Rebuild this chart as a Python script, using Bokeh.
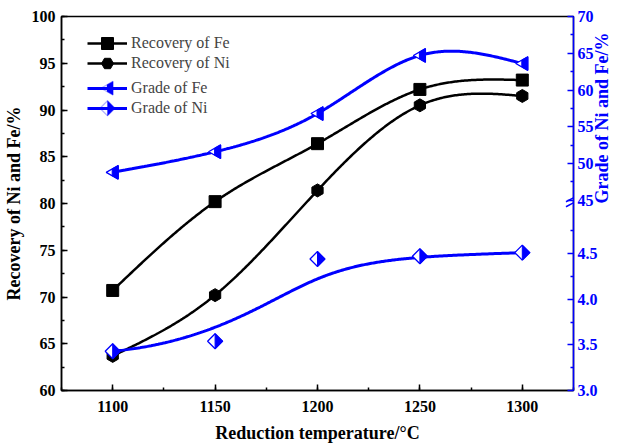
import numpy as np
from bokeh.plotting import figure
from bokeh.models import (Range1d, LinearAxis, FixedTicker, SingleIntervalTicker,
                          CustomJSTickFormatter, Legend, LegendItem, Arrow, PolyAnnotation)
from bokeh.embed import file_html
from bokeh.resources import INLINE

# ---------------- data ----------------
temperature = [1100, 1150, 1200, 1250, 1300]
recovery_fe = [70.7, 80.2, 86.4, 92.2, 93.2]
recovery_ni = [63.7, 70.2, 81.4, 90.5, 91.5]
grade_fe = [48.8, 51.6, 56.8, 64.7, 63.6]
grade_ni = [3.43, 3.54, 4.44, 4.47, 4.51]

ni_ticks = [3.0, 3.5, 4.0, 4.5]
ni_minor = [3.25, 3.75, 4.25, 4.75]
fe_ticks = [45, 50, 55, 60, 65, 70]
fe_minor = [47.5, 52.5, 57.5, 62.5, 67.5]

# ---------------- layout constants ----------------
FW, FH = 512, 374
X0, X1 = 1075, 1325
Y0, Y1 = 60, 100
FE_TOP = 70.0
FE_BREAK = 45.0
FE_PX = 7.35            # px per unit on upper (Fe grade) segment
NI_BOT = 3.0
NI_PX = 91.3            # px per unit on lower (Ni grade) segment
fe_lo = FE_TOP - FH / FE_PX
ni_hi = NI_BOT + FH / NI_PX
brk_px_from_bottom = FH - (FE_TOP - FE_BREAK) * FE_PX
ni_break = NI_BOT + brk_px_from_bottom / NI_PX
XPX = FW / (X1 - X0)

BLUE = "#0000FF"
SERIF = "Liberation Serif"

# marker shapes (px offsets)
TRI_OUT = [(-6.5, 0), (5.5, 6.8), (5.5, -6.8)]
TRI_IN = [(-0.5, 3.4), (5.5, 6.8), (5.5, -6.8), (-0.5, -3.4)]
DIA_OUT = [(0, 7.5), (7.5, 0), (0, -7.5), (-7.5, 0)]
DIA_IN = [(0, 7.5), (7.5, 0), (0, -7.5)]


def fe_to_ni(v):
    return NI_BOT + (v - fe_lo) / (FE_TOP - fe_lo) * (ni_hi - NI_BOT)


def natural_spline(xs, ys, n=300):
    x = np.asarray(xs, float); y = np.asarray(ys, float)
    k = len(x); h = np.diff(x)
    A = np.zeros((k, k)); b = np.zeros(k)
    A[0, 0] = A[-1, -1] = 1
    for i in range(1, k - 1):
        A[i, i - 1] = h[i - 1]; A[i, i] = 2 * (h[i - 1] + h[i]); A[i, i + 1] = h[i]
        b[i] = 6 * ((y[i + 1] - y[i]) / h[i] - (y[i] - y[i - 1]) / h[i - 1])
    M = np.linalg.solve(A, b)
    xx = np.linspace(x[0], x[-1], n)
    idx = np.clip(np.searchsorted(x, xx) - 1, 0, k - 2)
    xi, xi1, hi = x[idx], x[idx + 1], h[idx]
    yy = (M[idx] * (xi1 - xx) ** 3 + M[idx + 1] * (xx - xi) ** 3) / (6 * hi) \
        + (y[idx] / hi - M[idx] * hi / 6) * (xi1 - xx) \
        + (y[idx + 1] / hi - M[idx + 1] * hi / 6) * (xx - xi)
    return xx, yy


def bspline(xs, ys, n=300, k=3):
    P = np.column_stack([xs, ys]).astype(float)
    m_ctrl = len(P)
    knots = np.concatenate([np.zeros(k), np.linspace(0, 1, m_ctrl - k + 1), np.ones(k)])
    t = np.linspace(0, 1, n)
    m = len(knots) - 1
    N = np.zeros((n, m))
    for i in range(m):
        N[:, i] = ((knots[i] <= t) & (t < knots[i + 1])).astype(float)
    last = np.where(knots < knots[-1])[0][-1]
    N[t >= knots[-1], :] = 0
    N[t >= knots[-1], last] = 1
    for d in range(1, k + 1):
        Nn = np.zeros((n, m - d))
        for i in range(m - d):
            d1 = knots[i + d] - knots[i]; d2 = knots[i + d + 1] - knots[i + 1]
            a = (t - knots[i]) / d1 * N[:, i] if d1 > 0 else 0
            bb = (knots[i + d + 1] - t) / d2 * N[:, i + 1] if d2 > 0 else 0
            Nn[:, i] = a + bb
        N = Nn
    C = N @ P
    return C[:, 0], C[:, 1]


p = figure(frame_width=FW, frame_height=FH, x_range=Range1d(X0, X1), y_range=Range1d(Y0, Y1),
           output_backend="svg", toolbar_location=None,
           min_border_left=54, min_border_top=16, min_border_right=40, min_border_bottom=40)
p.extra_y_ranges = {"fe": Range1d(fe_lo, FE_TOP), "ni": Range1d(NI_BOT, ni_hi)}
p.xgrid.visible = False
p.ygrid.visible = False
p.outline_line_color = "black"
p.outline_line_width = 1.5
p.background_fill_color = "white"
p.border_fill_color = "white"


def style_axis(ax, color):
    ax.axis_line_color = color
    ax.axis_line_width = 1.5
    ax.major_tick_line_color = color
    ax.minor_tick_line_color = color
    ax.major_tick_line_width = 1.5
    ax.minor_tick_line_width = 1.5
    ax.major_tick_in = 6
    ax.major_tick_out = 0
    ax.minor_tick_in = 3
    ax.minor_tick_out = 0
    ax.major_label_text_font = SERIF
    ax.major_label_text_font_style = "bold"
    ax.major_label_text_font_size = "16px"
    ax.major_label_text_color = color
    ax.axis_label_text_font = SERIF
    ax.axis_label_text_font_style = "bold"
    ax.axis_label_text_font_size = "18px"
    ax.axis_label_text_color = color


p.xaxis.ticker = SingleIntervalTicker(interval=50, num_minor_ticks=2)
p.xaxis.axis_label = "Reduction temperature/°C"
p.xaxis.major_label_standoff = 10
p.xaxis.axis_label_standoff = 8
style_axis(p.xaxis[0], "black")

p.yaxis.ticker = SingleIntervalTicker(interval=5, num_minor_ticks=2)
p.yaxis.axis_label = "Recovery of Ni and Fe/%"
p.yaxis.major_label_standoff = 6
p.yaxis.axis_label_standoff = 5
style_axis(p.yaxis[0], "black")

right_ticks = list(ni_ticks) + [fe_to_ni(v) for v in fe_ticks]
right_minor = list(ni_minor) + [fe_to_ni(v) for v in fe_minor]
fmt = CustomJSTickFormatter(args=dict(brk=ni_break, fs=fe_lo, fe=FE_TOP, ns=NI_BOT, ne=ni_hi), code="""
if (tick < brk - 1e-6) { return tick.toFixed(1); }
const v = fs + (tick - ns) / (ne - ns) * (fe - fs);
return String(Math.round(v));
""")
rax = LinearAxis(y_range_name="ni", ticker=FixedTicker(ticks=right_ticks, minor_ticks=right_minor),
                 formatter=fmt, axis_label="Grade of Ni and Fe/%")
style_axis(rax, BLUE)
rax.major_label_standoff = 4
rax.axis_label_standoff = 1
rax.axis_label_orientation = np.pi / 2
p.add_layout(rax, "right")

# axis break marks
for off in (-2.5, 2.5):
    dxd = 7.5 / XPX
    p.add_layout(Arrow(end=None, x_start=X1 - dxd, x_end=X1 + dxd,
                       y_start=FE_BREAK + (off - 4) / FE_PX, y_end=FE_BREAK + (off + 4) / FE_PX,
                       y_range_name="fe", line_color=BLUE, line_width=1.5))

# ---------------- series ----------------
xs, ys = natural_spline(temperature, recovery_fe)
l_rfe = p.line(xs, ys, line_color="black", line_width=2.5)
xs, ys = natural_spline(temperature, recovery_ni)
l_rni = p.line(xs, ys, line_color="black", line_width=2.5)
m_rfe = p.scatter(temperature, recovery_fe, marker="square", size=12, color="black")
m_rni = p.scatter(temperature, recovery_ni, marker="hex", size=13, angle=np.pi / 2, color="black")

xs, ys = natural_spline(temperature, grade_fe)
l_gfe = p.line(xs, ys, line_color=BLUE, line_width=3, y_range_name="fe")
xs, ys = bspline(temperature, grade_ni)
l_gni = p.line(xs, ys, line_color=BLUE, line_width=3, y_range_name="ni")


def shape_patches(xv, yv, shape, ypx):
    out_x, out_y = [], []
    for x, y in zip(xv, yv):
        out_x.append([x + dx / XPX for dx, dy in shape])
        out_y.append([y + dy / ypx for dx, dy in shape])
    return out_x, out_y


# half-filled left-pointing triangles (Fe grade)
ox, oy = shape_patches(temperature, grade_fe, TRI_OUT, FE_PX)
p.patches(ox, oy, fill_color="white", line_color=BLUE, line_width=1.3, y_range_name="fe")
ix, iy = shape_patches(temperature, grade_fe, TRI_IN, FE_PX)
p.patches(ix, iy, fill_color=BLUE, line_color=BLUE, line_width=1.0, y_range_name="fe")

# half-filled diamonds (Ni grade)
ox, oy = shape_patches(temperature, grade_ni, DIA_OUT, NI_PX)
p.patches(ox, oy, fill_color="white", line_color=BLUE, line_width=1.3, y_range_name="ni")
ix, iy = shape_patches(temperature, grade_ni, DIA_IN, NI_PX)
p.patches(ix, iy, fill_color=BLUE, line_color=BLUE, line_width=1.0, y_range_name="ni")

# ---------------- legend ----------------
LEG_X = 26
GLYPH_W = 40
ROW_H = 30
row_centers_from_top = [26.7, 46.7, 71.7, 91.7]


def make_legend(label, renderers, center_from_top):
    loc_y = FH - (center_from_top + ROW_H / 2)
    lg = Legend(items=[LegendItem(label=label, renderers=renderers)], location=(LEG_X, loc_y),
                padding=0, spacing=0, margin=0,
                glyph_width=GLYPH_W, glyph_height=ROW_H, label_height=ROW_H, label_standoff=4,
                label_text_font=SERIF, label_text_font_size="16px",
                background_fill_alpha=0, border_line_alpha=0)
    p.add_layout(lg)


make_legend("Recovery of Fe", [l_rfe, m_rfe], row_centers_from_top[0])
make_legend("Recovery of Ni", [l_rni, m_rni], row_centers_from_top[1])
make_legend("Grade of Fe", [l_gfe], row_centers_from_top[2])
make_legend("Grade of Ni", [l_gni], row_centers_from_top[3])


def legend_marker(shape, center_from_top, fill):
    cx = LEG_X + GLYPH_W / 2
    cy = FH - center_from_top
    p.add_layout(PolyAnnotation(xs=[cx + dx for dx, dy in shape], ys=[cy + dy for dx, dy in shape],
                                xs_units="screen", ys_units="screen",
                                fill_color=fill, fill_alpha=1.0, line_color=BLUE,
                                line_width=1.3 if fill == "white" else 1.0))


legend_marker(TRI_OUT, row_centers_from_top[2], "white")
legend_marker(TRI_IN, row_centers_from_top[2], BLUE)
legend_marker(DIA_OUT, row_centers_from_top[3], "white")
legend_marker(DIA_IN, row_centers_from_top[3], BLUE)

open("out.html", "w").write(file_html(p, INLINE))
